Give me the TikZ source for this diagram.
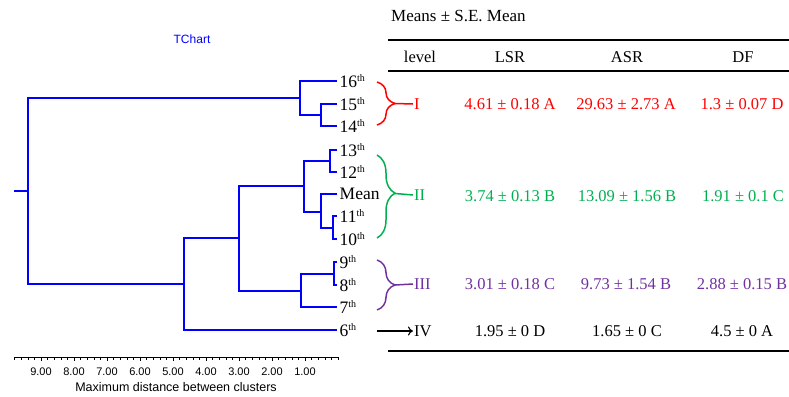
\documentclass[tikz,border=0pt]{standalone}
\usepackage{fontspec}
\setmainfont{Liberation Serif}
\setsansfont{Liberation Sans}
\usetikzlibrary{arrows,arrows.meta,positioning,calc,decorations.pathreplacing}
\definecolor{lvone}{RGB}{255,0,0}
\definecolor{lvtwo}{RGB}{0,176,80}
\definecolor{lvthree}{RGB}{112,48,160}
\newcommand{\ordth}[1]{#1\raisebox{6.5pt}{\fontsize{10}{10}\selectfont th}}

\begin{document}
\begin{tikzpicture}[x=1pt,y=-1pt,
  tree/.style={draw=blue,line width=1.4pt},
  leaf/.style={anchor=west,inner sep=2.5pt,font=\fontsize{17.5}{20}\selectfont},
  cell/.style={inner sep=0pt,font=\fontsize{16.5}{20}\selectfont},
  lvlab/.style={cell,anchor=west,inner sep=1pt},
  lvbrace/.style={decorate,decoration={brace,amplitude=18pt,aspect=#1},line width=1.5pt},
  axlab/.style={font=\sffamily\fontsize{11}{13}\selectfont}]
  \useasboundingbox (0,0) rectangle (789,396);

  %leaves
  \node[leaf] (l16) at (337,81) {\ordth{16}};
  \node[leaf] (l15) at (337,104) {\ordth{15}};
  \node[leaf] (l14) at (337,126) {\ordth{14}};
  \node[leaf] (l13) at (337,150) {\ordth{13}};
  \node[leaf] (l12) at (337,172) {\ordth{12}};
  \node[leaf] (lmean) at (337,194) {Mean};
  \node[leaf] (l11) at (337,216) {\ordth{11}};
  \node[leaf] (l10) at (337,239) {\ordth{10}};
  \node[leaf] (l9) at (337,262) {\ordth{9}};
  \node[leaf] (l8) at (337,285) {\ordth{8}};
  \node[leaf] (l7) at (337,307) {\ordth{7}};
  \node[leaf] (l6) at (337,330) {\ordth{6}};

  %joints
  \coordinate (j1a) at (321,115);
  \coordinate (j1) at (300,98);
  \coordinate (j4a) at (330,161);
  \coordinate (j4c) at (333,228);
  \coordinate (j4b) at (321,212);
  \coordinate (j4) at (304,186);
  \coordinate (j5a) at (334,274);
  \coordinate (j5) at (301,291);
  \coordinate (j3) at (239,238);
  \coordinate (j2) at (184,284);
  \coordinate (root) at (28,191);
  \coordinate (stub) at (14,191);

  \draw[tree] (l15.west) -| (j1a) |- (l14.west);
  \draw[tree] (l16.west) -| (j1) |- (j1a);
  \draw[tree] (l13.west) -| (j4a) |- (l12.west);
  \draw[tree] (l11.west) -| (j4c) |- (l10.west);
  \draw[tree] (lmean.west) -| (j4b) |- (j4c);
  \draw[tree] (j4a) -| (j4) |- (j4b);
  \draw[tree] (l9.west) -| (j5a) |- (l8.west);
  \draw[tree] (j5a) -| (j5) |- (l7.west);
  \draw[tree] (j4) -| (j3) |- (j5);
  \draw[tree] (j3) -| (j2) |- (l6.west);
  \draw[tree] (j1) -| (root) |- (j2);
  \draw[tree] (stub) -- (root);

  %axis
  \draw[line width=0.8pt] (14,357) -- (339,357);
  \foreach \k in {0,...,49}
    \draw[line width=0.6pt] (338-6.6*\k,357) -- ++(0,2.5);
  \foreach \d in {1,...,9}
    \draw[line width=0.6pt] (338-33*\d,357) -- ++(0,3.5);
  \foreach \d in {1,...,9}
    \node[axlab] (t\d) at (338-33*\d,372) {\d.00};
  \node[axlab,font=\sffamily\fontsize{12.5}{14}\selectfont] (axtitle) at (176,387) {Maximum distance between clusters};
  \node[font=\sffamily\fontsize{12}{14}\selectfont,text=blue] (tchart) at (192,39) {TChart};

  %table
  \node[anchor=west,inner sep=0pt,font=\fontsize{17}{20}\selectfont] (cap) at (391,16) {Means ± S.E. Mean};
  \draw[line width=2pt] (388,40) -- (789,40);
  \node[cell] (hlev) at (420,57) {level};
  \node[cell] (hlsr) at (510,57) {LSR};
  \node[cell] (hasr) at (627,57) {ASR};
  \node[cell] (hdf) at (743,57) {DF};
  \draw[line width=1.2pt] (388,71) -- (789,71);
  \draw[line width=2pt] (388,351) -- (789,351);

  %level I
  \node[lvlab,text=lvone] (lv1) at (413,104) {I};
  \node[cell,text=lvone] (lsr1) at (510,104) {4.61 ± 0.18 A};
  \node[cell,text=lvone] (asr1) at (626,104) {29.63 ± 2.73 A};
  \node[cell,text=lvone] (df1) at (742,104) {1.3 ± 0.07 D};
  \draw[lvbrace=0.5,lvone] (377,82) -- (377,125);
  \coordinate (b1) at (395,103.5);
  \draw[lvone,line width=1.5pt] (b1) -- (lv1.west);

  %level II
  \node[lvlab,text=lvtwo] (lv2) at (413,195) {II};
  \node[cell,text=lvtwo] (lsr2) at (510,196) {3.74 ± 0.13 B};
  \node[cell,text=lvtwo] (asr2) at (627,196) {13.09 ± 1.56 B};
  \node[cell,text=lvtwo] (df2) at (743,196) {1.91 ± 0.1 C};
  \draw[lvbrace=0.46,lvtwo] (377,155) -- (377,238);
  \coordinate (b2) at (395,193.5);
  \draw[lvtwo,line width=1.5pt] (b2) -- (lv2.west);

  %level III
  \node[lvlab,text=lvthree] (lv3) at (413,284) {III};
  \node[cell,text=lvthree] (lsr3) at (510,284) {3.01 ± 0.18 C};
  \node[cell,text=lvthree] (asr3) at (626,284) {9.73 ± 1.54 B};
  \node[cell,text=lvthree] (df3) at (742,284) {2.88 ± 0.15 B};
  \draw[lvbrace=0.5,lvthree] (377,260) -- (377,310);
  \coordinate (b3) at (395,285);
  \draw[lvthree,line width=1.5pt] (b3) -- (lv3.west);

  %level IV
  \node[lvlab] (lv4) at (413,331) {IV};
  \node[cell] (lsr4) at (510,331) {1.95 ± 0 D};
  \node[cell] (asr4) at (627,331) {1.65 ± 0 C};
  \node[cell] (df4) at (742,331) {4.5 ± 0 A};
  \coordinate (a6) at (377,331);
  \draw[-{To[length=5pt,width=9pt]},line width=1.1pt] (a6) -- (lv4.west);
\end{tikzpicture}
\end{document}
